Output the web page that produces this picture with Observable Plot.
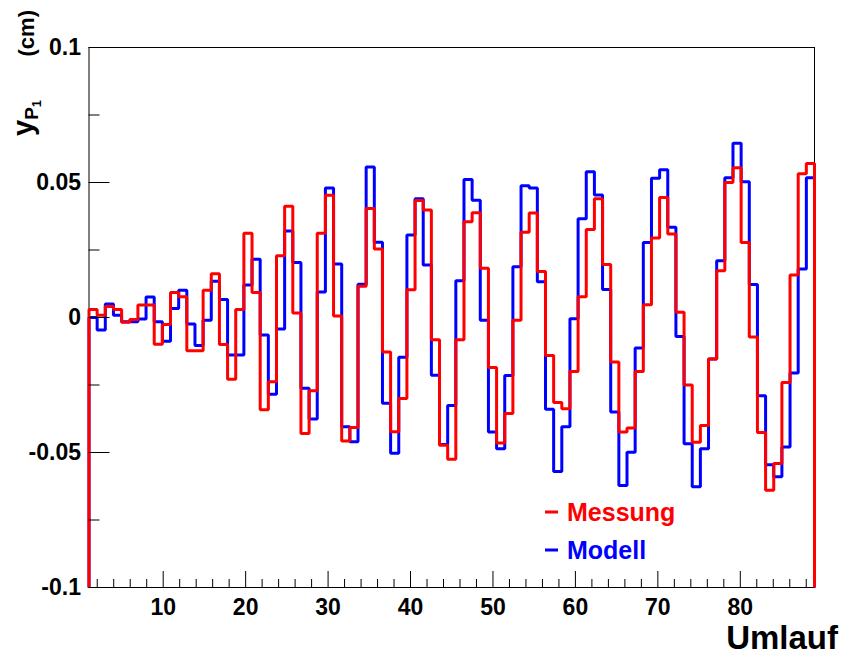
<!DOCTYPE html>
<html><head><meta charset="utf-8">
<script src="https://cdn.jsdelivr.net/npm/d3@7"></script>
<script src="https://cdn.jsdelivr.net/npm/@observablehq/plot@0.6"></script>
<style>
body{margin:0;background:#fff;}
#chart{width:845px;height:655px;position:relative;}
</style></head><body><div id="chart"></div>
<script>
// Umlauf axis range and histogram values (one value per bin)
const umlaufMin = 1, umlaufMax = 89;
const messung = [
  0.0030, 0.0008, 0.0041, 0.0030, -0.0018, -0.0007, 0.0046, 0.0046, -0.0099, -0.0026,
  0.0093, 0.0077, -0.0123, -0.0123, 0.0101, 0.0162, -0.0100, -0.0229, 0.0030, 0.0312,
  0.0093, -0.0342, -0.0238, 0.0229, 0.0412, 0.0017, -0.0430, -0.0271, 0.0312, 0.0453,
  0.0006, -0.0457, -0.0407, 0.0116, 0.0404, 0.0254, -0.0128, -0.0423, -0.0300, 0.0103,
  0.0433, 0.0398, -0.0082, -0.0473, -0.0525, -0.0082, 0.0355, 0.0388, 0.0182, -0.0185,
  -0.0465, -0.0356, -0.0010, 0.0316, 0.0387, 0.0170, -0.0141, -0.0315, -0.0338, -0.0200,
  0.0077, 0.0326, 0.0440, 0.0196, -0.0165, -0.0424, -0.0409, -0.0200, 0.0047, 0.0294,
  0.0444, 0.0309, 0.0019, -0.0250, -0.0462, -0.0400, -0.0154, 0.0173, 0.0500, 0.0555,
  0.0278, -0.0072, -0.0426, -0.0640, -0.0541, -0.0241, 0.0157, 0.0532, 0.0570
];
const modell = [
  0.0000, -0.0046, 0.0050, 0.0008, -0.0016, -0.0016, -0.0006, 0.0076, -0.0016, -0.0088,
  0.0033, 0.0101, -0.0024, -0.0104, -0.0010, 0.0134, 0.0067, -0.0139, -0.0139, 0.0120,
  0.0216, -0.0065, -0.0284, -0.0043, 0.0320, 0.0204, -0.0262, -0.0376, 0.0094, 0.0480,
  0.0198, -0.0405, -0.0460, 0.0123, 0.0557, 0.0279, -0.0318, -0.0503, -0.0147, 0.0306,
  0.0440, 0.0194, -0.0214, -0.0470, -0.0326, 0.0136, 0.0511, 0.0434, -0.0010, -0.0424,
  -0.0486, -0.0215, 0.0188, 0.0488, 0.0480, 0.0132, -0.0340, -0.0570, -0.0405, -0.0005,
  0.0366, 0.0540, 0.0454, 0.0104, -0.0350, -0.0622, -0.0499, -0.0113, 0.0278, 0.0516,
  0.0547, 0.0334, -0.0070, -0.0468, -0.0627, -0.0486, -0.0154, 0.0210, 0.0518, 0.0645,
  0.0503, 0.0122, -0.0290, -0.0545, -0.0590, -0.0480, -0.0206, 0.0180, 0.0518
];
const yDomain = [-0.1, 0.1];
const yTickValues = [-0.1, -0.05, 0, 0.05, 0.1];
const yTickLabels = ["-0.1", "-0.05", "0", "0.05", "0.1"];
const yMinorTicks = [-0.075, -0.025, 0.025, 0.075];
const xTickValues = [10, 20, 30, 40, 50, 60, 70, 80];
const xTickLabels = ["10", "20", "30", "40", "50", "60", "70", "80"];
const xMinorTicks = [2,4,6,8,12,14,16,18,22,24,26,28,32,34,36,38,42,44,46,48,52,54,56,58,62,64,66,68,72,74,76,78,82,84,86,88];
const seriesNames = ["Messung", "Modell"];
const seriesColors = ["#ff0000", "#0000ff"];
const xTitle = "Umlauf";

// Build histogram outline points (bin left edges) for a step curve
function histPoints(values) {
  const n = values.length, w = (umlaufMax - umlaufMin) / n;
  const pts = [{x: umlaufMin, y: yDomain[0]}];
  values.forEach((v, i) => pts.push({x: umlaufMin + i * w, y: v}));
  pts.push({x: umlaufMax, y: values[n - 1]});
  pts.push({x: umlaufMax, y: yDomain[0]});
  return pts;
}

const W = 845, H = 655, mL = 88.5, mR = 31, mT = 47, mB = 68;
const frameW = W - mL - mR, frameH = H - mT - mB;
const font = "'Liberation Sans', Arial, Helvetica, sans-serif";

const plot = Plot.plot({
  width: W, height: H,
  marginLeft: mL, marginRight: mR, marginTop: mT, marginBottom: mB,
  style: {fontFamily: font, fontWeight: "bold", fontSize: "23px", color: "black", background: "white", overflow: "visible"},
  x: {domain: [umlaufMin, umlaufMax]},
  y: {domain: yDomain},
  marks: [
    Plot.frame({stroke: "black", strokeWidth: 1}),
    Plot.line(histPoints(modell), {x: "x", y: "y", curve: "step-after", stroke: seriesColors[1], strokeWidth: 3, strokeLinejoin: "miter", strokeLinecap: "butt"}),
    Plot.line(histPoints(messung), {x: "x", y: "y", curve: "step-after", stroke: seriesColors[0], strokeWidth: 3, strokeLinejoin: "miter", strokeLinecap: "butt"}),
    Plot.tickY(yTickValues, {y: d => d, stroke: "black", insetRight: frameW - 21}),
    Plot.tickY(yMinorTicks, {y: d => d, stroke: "black", insetRight: frameW - 11}),
    Plot.tickX(xTickValues, {x: d => d, stroke: "black", insetTop: frameH - 16}),
    Plot.tickX(xMinorTicks, {x: d => d, stroke: "black", insetTop: frameH - 8}),
    Plot.axisY({ticks: yTickValues, tickSize: 0, tickPadding: 8, label: null,
      tickFormat: d => yTickLabels[yTickValues.indexOf(d)], fontSize: 23, fontWeight: "bold"}),
    Plot.axisX({ticks: xTickValues, tickSize: 0, tickPadding: 11, label: null,
      tickFormat: d => xTickLabels[xTickValues.indexOf(d)], fontSize: 23, fontWeight: "bold"})
  ]
});
document.getElementById("chart").appendChild(plot);

const svg = d3.select(plot);
// x axis title
svg.append("text").attr("x", 838).attr("y", 649).attr("text-anchor", "end")
  .attr("font-family", font).attr("font-weight", "bold").attr("font-size", 33).attr("fill", "black")
  .text(xTitle);
// y axis title: y_{P_1} (cm)
const yt = svg.append("text").attr("transform", "translate(33,136) rotate(-90)").attr("text-anchor", "start")
  .attr("font-family", font).attr("font-weight", "bold").attr("font-size", 29).attr("fill", "black");
yt.append("tspan").text("y");
yt.append("tspan").attr("font-size", 19).attr("dy", 5).text("P");
yt.append("tspan").attr("font-size", 13).attr("dy", 3).text("1");
svg.append("text").attr("transform", "translate(34,10) rotate(-90)").attr("text-anchor", "end")
  .attr("font-family", font).attr("font-weight", "bold").attr("font-size", 22).attr("fill", "black")
  .text("(cm)");
// legend
const legendRows = [512, 550];
seriesNames.forEach((name, i) => {
  svg.append("line").attr("x1", 545).attr("x2", 558).attr("y1", legendRows[i]).attr("y2", legendRows[i])
    .attr("stroke", seriesColors[i]).attr("stroke-width", 3);
  svg.append("text").attr("x", 567).attr("y", legendRows[i]).attr("dy", "0.36em").attr("text-anchor", "start")
    .attr("font-family", font).attr("font-weight", "bold").attr("font-size", 25).attr("fill", seriesColors[i])
    .text(name);
});
</script></body></html>
